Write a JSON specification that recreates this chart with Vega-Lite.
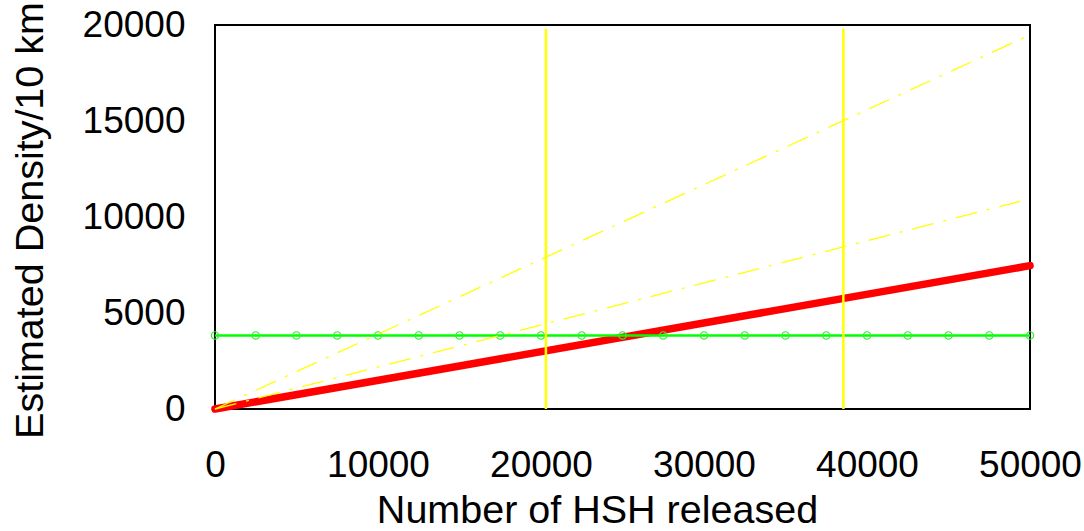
{
  "$schema": "https://vega.github.io/schema/vega-lite/v6.json",
  "autosize": "none",
  "width": 815,
  "height": 384,
  "padding": {"left": 215, "top": 25, "right": 54, "bottom": 122},
  "background": "white",
  "config": {
    "view": {"stroke": "black", "strokeWidth": 2},
    "font": "Liberation Sans"
  },
  "datasets": {
    "lines": [
      {"series": "red", "x": 0, "y": 0},
      {"series": "red", "x": 50000, "y": 7467},
      {"series": "upper", "x": 0, "y": 0},
      {"series": "upper", "x": 50000, "y": 19480},
      {"series": "lower", "x": 0, "y": 0},
      {"series": "lower", "x": 50000, "y": 10950}
    ],
    "green": [
      {"x": 0, "y": 3830}, {"x": 2500, "y": 3830}, {"x": 5000, "y": 3830},
      {"x": 7500, "y": 3830}, {"x": 10000, "y": 3830}, {"x": 12500, "y": 3830},
      {"x": 15000, "y": 3830}, {"x": 17500, "y": 3830}, {"x": 20000, "y": 3830},
      {"x": 22500, "y": 3830}, {"x": 25000, "y": 3830}, {"x": 27500, "y": 3830},
      {"x": 30000, "y": 3830}, {"x": 32500, "y": 3830}, {"x": 35000, "y": 3830},
      {"x": 37500, "y": 3830}, {"x": 40000, "y": 3830}, {"x": 42500, "y": 3830},
      {"x": 45000, "y": 3830}, {"x": 47500, "y": 3830}, {"x": 50000, "y": 3830}
    ],
    "vlines": [
      {"x": 20300, "y": 0, "y2": 19800},
      {"x": 38550, "y": 0, "y2": 19800}
    ]
  },
  "layer": [
    {
      "data": {"name": "lines"},
      "transform": [{"filter": "datum.series == 'red'"}],
      "mark": {"type": "line", "color": "#FF0000", "strokeWidth": 7.5, "strokeCap": "round"},
      "encoding": {
        "x": {
          "field": "x", "type": "quantitative",
          "scale": {"domain": [0, 50000], "nice": false},
          "axis": {
            "values": [0, 10000, 20000, 30000, 40000, 50000],
            "format": "d",
            "grid": false, "ticks": false, "domain": false,
            "labelFontSize": 37, "labelColor": "black", "labelPadding": 38,
            "labelFlush": false, "labelOverlap": false,
            "title": "Number of HSH released",
            "titleFontSize": 39.5, "titleFontWeight": "normal", "titleColor": "black",
            "titleBaseline": "alphabetic", "titleX": 382, "titleY": 113, "titleAlign": "center"
          }
        },
        "y": {
          "field": "y", "type": "quantitative",
          "scale": {"domain": [0, 20000], "nice": false},
          "axis": {
            "values": [0, 5000, 10000, 15000, 20000],
            "format": "d",
            "grid": false, "ticks": false, "domain": false,
            "labelFontSize": 37, "labelColor": "black", "labelPadding": 30,
            "labelFlush": false, "labelOverlap": false,
            "title": "Estimated Density/10 km",
            "titleFontSize": 39.5, "titleFontWeight": "normal", "titleColor": "black",
            "titleBaseline": "alphabetic", "titleX": -173, "titleY": 195, "titleAlign": "center", "titleAngle": -90
          }
        }
      }
    },
    {
      "data": {"name": "green"},
      "mark": {"type": "line", "color": "#00FF00", "strokeWidth": 2.5},
      "encoding": {
        "x": {"field": "x", "type": "quantitative"},
        "y": {"field": "y", "type": "quantitative"}
      }
    },
    {
      "data": {"name": "green"},
      "mark": {"type": "point", "shape": "circle", "filled": false, "color": "#33EE33", "size": 55, "strokeWidth": 1.2, "opacity": 1},
      "encoding": {
        "x": {"field": "x", "type": "quantitative"},
        "y": {"field": "y", "type": "quantitative"}
      }
    },
    {
      "data": {"name": "lines"},
      "transform": [{"filter": "datum.series != 'red'"}],
      "mark": {"type": "line", "color": "#FFFF00", "strokeWidth": 1.3, "strokeDash": [22, 10, 3, 10]},
      "encoding": {
        "x": {"field": "x", "type": "quantitative"},
        "y": {"field": "y", "type": "quantitative"},
        "detail": {"field": "series"}
      }
    },
    {
      "data": {"name": "vlines"},
      "mark": {"type": "rule", "color": "#FFFF00", "strokeWidth": 2.5},
      "encoding": {
        "x": {"field": "x", "type": "quantitative"},
        "y": {"field": "y", "type": "quantitative"},
        "y2": {"field": "y2"}
      }
    }
  ]
}
